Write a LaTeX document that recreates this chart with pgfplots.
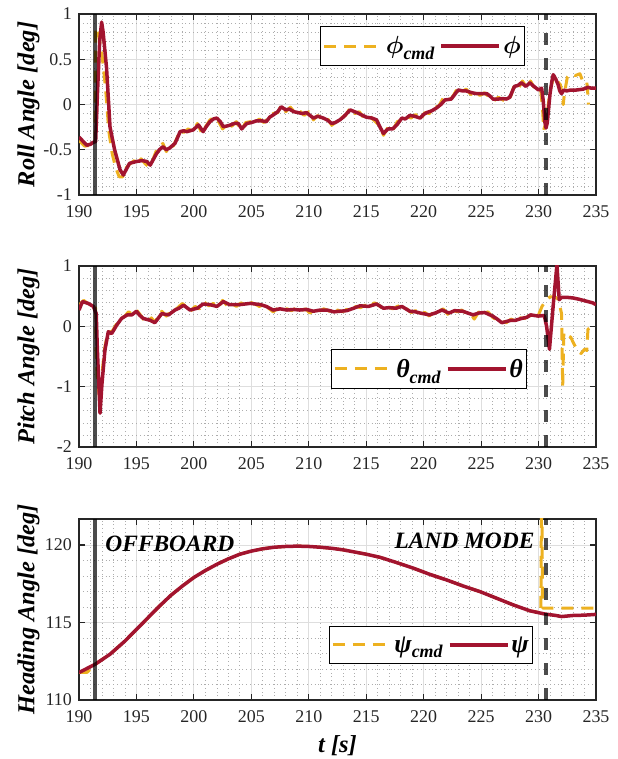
\documentclass[border=0pt]{standalone}
\usepackage{fontspec}
\setmainfont{Liberation Serif}
\usepackage{bm}
\usepackage{pgfplots}
\pgfplotsset{compat=1.18}
\definecolor{cmdc}{HTML}{EDB120}
\definecolor{actc}{HTML}{A2142F}
\definecolor{tickc}{HTML}{262626}
\newcommand{\sub}[1]{\raisebox{-0.5ex}{\fontsize{18}{20}\selectfont\textbf{\textit{#1}}}}
\pgfplotsset{
 myaxis/.style={
  scale only axis, width=517bp, height=181bp,
  xmin=190, xmax=235,
  xtick={190,195,...,235},
  xticklabels={190,195,200,205,210,215,220,225,230,235},
  minor x tick num=4, minor y tick num=4,
  grid=both,
  major grid style={line width=0.8bp, color=black!13},
  minor grid style={line width=0.7bp, color=black!32, dash pattern=on 0.8bp off 3bp},
  axis line style={line width=1.5bp, color=black!85},
  tick align=inside, xtick pos=both, ytick pos=both,
  major tick length=6bp, minor tick length=0bp,
  every tick/.style={line width=1.2bp, color=black!85},
  tick label style={font=\fontsize{18}{20}\selectfont, color=tickc, inner sep=1bp},
  xticklabel style={yshift=-9bp},
  yticklabel style={xshift=-6bp},
  every axis y label/.style={at={(axis description cs:-0.0977,0.5)}, rotate=90, anchor=center, font=\fontsize{24.5}{27}\selectfont\bfseries\itshape},
  legend image code/.code={\draw[##1] (0bp,0bp) -- (58bp,0bp);},
  legend columns=2,
  legend style={draw=black, line width=0.8bp, fill=white, font=\fontsize{26}{28}\selectfont, inner xsep=2bp, inner ysep=8bp, /tikz/every even column/.append style={column sep=3bp}, cells={anchor=west}},
 },
 cmdline/.style={color=cmdc, line width=3bp, dash pattern=on 12bp off 8bp, line join=round},
 actline/.style={color=actc, line width=3.5bp, line join=round},
 vsolid/.style={black, opacity=0.7, line width=3.8bp, forget plot},
 vdash/.style={black, opacity=0.7, line width=3.8bp, dash pattern=on 12bp off 13bp, forget plot},
}
\begin{document}
\begin{tikzpicture}
\useasboundingbox (0,0) rectangle (618bp,759bp);
% ---------------- Roll ----------------
\begin{axis}[myaxis, at={(79bp,564bp)}, anchor=south west,
  ymin=-1, ymax=1, ytick={-1,-0.5,0,0.5,1}, yticklabels={-1,-0.5,0,0.5,1},
  ylabel={Roll Angle [deg]},
  legend style={at={(0.665,0.823)}, anchor=center}]
\addplot[cmdline] coordinates {
(190.0,-0.40) (190.5,-0.46) (191.0,-0.45) (191.4,-0.44) (191.45,0.85) (191.7,0.78) (192.0,0.55) (192.3,0.2)
(192.6,-0.3) (192.9,-0.55) (193.2,-0.70) (193.5,-0.80) (193.8,-0.80) (194.1,-0.70) (194.4,-0.66) (194.8,-0.62)
(195.1,-0.66) (195.4,-0.60) (195.8,-0.66) (196.1,-0.69) (196.4,-0.62) (196.7,-0.52) (197.0,-0.48) (197.3,-0.43)
(197.6,-0.52) (197.9,-0.46) (198.2,-0.46) (198.5,-0.38) (198.8,-0.28) (199.1,-0.31) (199.5,-0.27) (199.9,-0.30)
(200.3,-0.21) (200.7,-0.32) (201.0,-0.25) (201.4,-0.17) (201.8,-0.14) (202.2,-0.20) (202.5,-0.27) (202.9,-0.22)
(203.3,-0.24) (203.7,-0.19) (204.1,-0.29) (204.5,-0.20) (204.9,-0.19) (205.3,-0.20) (205.7,-0.16) (206.1,-0.20)
(206.5,-0.15) (206.9,-0.10) (207.3,-0.09) (207.6,-0.01) (208.0,-0.08) (208.4,-0.03) (208.8,-0.09) (209.2,-0.07)
(209.6,-0.12) (210.0,-0.08) (210.4,-0.17) (210.8,-0.12) (211.2,-0.17) (211.6,-0.15) (212.0,-0.23) (212.4,-0.19)
(212.8,-0.15) (213.2,-0.12) (213.6,-0.04) (214.0,-0.10) (214.4,-0.08) (214.8,-0.15) (215.3,-0.13) (215.8,-0.19)
(216.2,-0.24) (216.5,-0.34) (216.9,-0.25) (217.3,-0.29) (217.7,-0.19) (218.1,-0.17) (218.5,-0.13) (218.9,-0.15)
(219.3,-0.11) (219.7,-0.17) (220.1,-0.09) (220.5,-0.10) (220.9,-0.03) (221.3,-0.02) (221.7,0.07) (222.1,0.04)
(222.5,0.08) (222.9,0.17) (223.3,0.14) (223.7,0.17) (224.1,0.11) (224.5,0.14) (224.9,0.10) (225.3,0.13)
(225.7,0.08) (226.1,0.04) (226.5,0.08) (226.9,0.05) (227.3,0.03) (227.6,0.10) (227.9,0.22) (228.3,0.19)
(228.6,0.26) (229.0,0.18) (229.3,0.26) (229.6,0.19) (229.9,0.21) (230.2,0.15) (230.35,-0.05) (230.45,-0.28)
(230.6,-0.22) (230.8,-0.05) (231.0,0.15) (231.3,0.30) (231.6,0.26) (231.9,0.22) (232.05,0.12) (232.15,0.0)
(232.25,0.12) (232.5,0.30) (232.8,0.34) (233.2,0.32) (233.6,0.34) (233.9,0.24) (234.2,0.25) (234.3,0.10) (234.35,0.0)
};
\addlegendentry{$\bm{\phi}$\sub{cmd}}
\addplot[actline] coordinates {
(190.0,-0.36) (190.3,-0.40) (190.67,-0.45) (191.0,-0.44) (191.2,-0.42) (191.45,-0.41) (191.6,0.1) (191.8,0.7)
(191.97,0.91) (192.1,0.8) (192.4,0.40) (192.7,-0.25) (193.1,-0.50) (193.57,-0.72) (193.86,-0.78) (194.1,-0.72)
(194.4,-0.65) (194.7,-0.64) (195.0,-0.63) (195.5,-0.62) (195.9,-0.63) (196.2,-0.67) (196.5,-0.60) (196.76,-0.54)
(197.0,-0.50) (197.3,-0.466) (197.6,-0.50) (197.9,-0.48) (198.35,-0.43) (198.6,-0.36) (198.8,-0.30) (199.1,-0.29)
(199.4,-0.30) (199.95,-0.28) (200.4,-0.226) (200.8,-0.30) (201.1,-0.24) (201.4,-0.19) (201.7,-0.16) (202.0,-0.15)
(202.3,-0.19) (202.56,-0.245) (202.8,-0.24) (203.1,-0.23) (203.5,-0.21) (203.87,-0.21) (204.16,-0.27) (204.6,-0.21)
(205.0,-0.20) (205.46,-0.18) (205.9,-0.18) (206.3,-0.19) (206.6,-0.14) (206.9,-0.116) (207.3,-0.08) (207.6,-0.025)
(208.0,-0.06) (208.3,-0.05) (208.7,-0.08) (209.1,-0.09) (209.4,-0.10) (209.8,-0.09) (210.1,-0.12) (210.4,-0.15)
(210.8,-0.13) (211.26,-0.15) (211.6,-0.17) (212.0,-0.21) (212.3,-0.20) (212.7,-0.17) (213.0,-0.14) (213.6,-0.06)
(214.2,-0.09) (215.0,-0.14) (215.5,-0.15) (215.9,-0.17) (216.2,-0.25) (216.5,-0.32) (216.9,-0.27) (217.3,-0.27)
(217.7,-0.22) (218.1,-0.15) (218.4,-0.16) (218.8,-0.12) (219.2,-0.13) (219.7,-0.15) (220.0,-0.11) (220.26,-0.09)
(220.7,-0.07) (221.1,-0.04) (221.5,0.0) (221.85,0.05) (222.4,0.06) (222.7,0.11) (223.0,0.16) (223.4,0.15)
(223.7,0.15) (224.2,0.13) (224.6,0.12) (225.0,0.12) (225.5,0.12) (225.8,0.09) (226.06,0.058) (226.5,0.06)
(226.9,0.065) (227.2,0.06) (227.5,0.08) (227.9,0.20) (228.2,0.21) (228.5,0.24) (228.9,0.20) (229.25,0.24)
(229.5,0.21) (229.8,0.18) (230.0,0.16) (230.27,0.18) (230.4,0.05) (230.56,-0.2) (230.65,-0.26) (230.76,-0.2)
(231.0,0.12) (231.15,0.25) (231.28,0.33) (231.5,0.28) (231.7,0.22) (231.85,0.15) (232.0,0.12) (232.2,0.16)
(232.44,0.15) (232.8,0.16) (233.3,0.16) (233.9,0.17) (234.3,0.19) (234.6,0.18) (235.0,0.18)
};
\addlegendentry{$\bm{\phi}$}
\addplot[vsolid] coordinates {(191.42,-1) (191.42,1)};
\addplot[vdash] coordinates {(230.62,-1) (230.62,1)};
\end{axis}
% ---------------- Pitch ----------------
\begin{axis}[myaxis, at={(79bp,312bp)}, anchor=south west,
  ymin=-2, ymax=1, ytick={-2,-1,0,1}, yticklabels={-2,-1,0,1},
  ylabel={Pitch Angle [deg]},
  legend style={at={(0.677,0.431)}, anchor=center}]
\addplot[cmdline] coordinates {
(190.0,0.35) (190.4,0.43) (190.9,0.36) (191.3,0.33) (191.45,0.30) (191.5,-0.4) (191.6,-0.9) (191.8,-1.2)
(192.0,-0.8) (192.2,-0.4) (192.5,-0.1) (192.9,-0.08) (193.3,0.05) (193.6,0.12) (194.0,0.17) (194.3,0.24)
(194.7,0.20) (195.0,0.27) (195.3,0.20) (195.6,0.12) (195.9,0.06) (196.3,0.14) (196.6,0.07) (196.9,0.16)
(197.2,0.25) (197.6,0.17) (197.9,0.23) (198.3,0.26) (198.6,0.31) (199.0,0.38) (199.4,0.31) (199.7,0.25)
(200.1,0.33) (200.5,0.29) (200.9,0.40) (201.3,0.34) (201.7,0.38) (202.1,0.31) (202.5,0.43) (202.9,0.34)
(203.3,0.38) (203.7,0.33) (204.1,0.39) (204.5,0.35) (204.9,0.40) (205.3,0.37) (205.7,0.33) (206.1,0.36)
(206.5,0.30) (206.9,0.24) (207.3,0.30) (207.7,0.26) (208.1,0.29) (208.5,0.26) (208.9,0.30) (209.3,0.25)
(209.7,0.29) (210.1,0.22) (210.5,0.27) (210.9,0.25) (211.3,0.29) (211.7,0.26) (212.1,0.22) (212.5,0.27)
(212.9,0.24) (213.3,0.28) (213.7,0.27) (214.1,0.33) (214.5,0.31) (214.9,0.35) (215.3,0.31) (215.7,0.39)
(216.1,0.35) (216.5,0.28) (216.9,0.32) (217.3,0.29) (217.7,0.33) (218.1,0.35) (218.5,0.29) (218.9,0.23)
(219.3,0.26) (219.7,0.21) (220.1,0.23) (220.5,0.17) (220.9,0.24) (221.3,0.25) (221.7,0.29) (222.1,0.20)
(222.5,0.27) (222.9,0.24) (223.3,0.27) (223.7,0.22) (224.1,0.21) (224.4,0.12) (224.8,0.24) (225.2,0.21)
(225.6,0.24) (226.0,0.15) (226.4,0.10) (226.8,0.08) (227.2,0.06) (227.6,0.12) (228.0,0.09) (228.4,0.14)
(228.8,0.13) (229.2,0.18) (229.6,0.15) (230.0,0.19) (230.3,0.33) (230.6,0.42) (231.0,0.49) (231.4,0.49)
(231.7,0.45) (231.9,0.30) (232.0,0.21) (232.1,-1.0) (232.2,-0.1) (232.5,-0.15) (232.8,-0.18) (233.1,-0.30)
(233.4,-0.40) (233.7,-0.45) (234.0,-0.38) (234.2,-0.40) (234.3,-0.05) (234.5,-0.02)
};
\addlegendentry{\textbf{\textit{θ}}\sub{cmd}}
\addplot[actline] coordinates {
(190.0,0.27) (190.3,0.41) (190.8,0.38) (191.25,0.33) (191.5,0.21) (191.6,-0.39) (191.83,-1.44) (192.0,-0.95)
(192.26,-0.39) (192.55,-0.09) (192.84,-0.12) (193.28,0.02) (193.7,0.13) (194.2,0.19) (194.6,0.19) (195.0,0.25)
(195.3,0.18) (195.6,0.13) (196.2,0.10) (196.6,0.06) (197.2,0.21) (197.8,0.19) (198.35,0.27) (198.7,0.30)
(199.1,0.35) (199.66,0.27) (200.3,0.30) (200.8,0.37) (201.4,0.36) (202.0,0.33) (202.56,0.41) (203.1,0.36)
(204.0,0.36) (204.9,0.38) (205.8,0.36) (206.3,0.33) (206.9,0.27) (207.5,0.29) (208.1,0.27) (208.7,0.28)
(209.2,0.27) (209.8,0.28) (210.4,0.25) (211.0,0.27) (211.6,0.27) (212.2,0.24) (212.7,0.25) (213.3,0.26)
(213.9,0.30) (214.46,0.34) (215.2,0.33) (215.9,0.37) (216.5,0.30) (217.0,0.31) (217.6,0.30) (218.1,0.33)
(218.8,0.25) (219.3,0.24) (219.7,0.22) (220.5,0.19) (221.0,0.22) (221.6,0.27) (222.2,0.22) (222.7,0.26)
(223.4,0.25) (224.3,0.19) (224.8,0.22) (225.3,0.23) (226.0,0.17) (226.4,0.12) (226.8,0.06) (227.2,0.08)
(227.6,0.10) (228.0,0.10) (228.5,0.13) (229.0,0.15) (229.3,0.19) (229.97,0.17) (230.5,0.18) (230.7,0.0)
(230.95,-0.38) (231.3,0.40) (231.6,1.02) (231.8,0.44) (232.0,0.48) (232.5,0.48) (233.0,0.47) (233.5,0.45)
(233.9,0.43) (234.3,0.41) (234.7,0.39) (235.0,0.36)
};
\addlegendentry{\textbf{\textit{θ}}}
\addplot[vsolid] coordinates {(191.42,-2) (191.42,1)};
\addplot[vdash] coordinates {(230.62,-2) (230.62,1)};
\end{axis}
% ---------------- Heading ----------------
\begin{axis}[myaxis, at={(79bp,59bp)}, anchor=south west,
  ymin=110, ymax=121.67, ytick={110,115,120}, yticklabels={110,115,120},
  ylabel={Heading Angle [deg]},
  xlabel={t [s]},
  xlabel style={at={(axis description cs:0.5,-0.25)}, anchor=center, font=\fontsize{24.5}{27}\selectfont\bfseries\itshape},
  legend style={at={(0.681,0.304)}, anchor=center}]
\addplot[cmdline] coordinates {
(190.0,111.78) (190.7,111.78) (191.4,112.3) (192.7,112.95) (194.0,113.8) (195.0,114.55) (196.0,115.3)
(197.0,116.05) (198.0,116.75) (199.0,117.35) (200.0,117.9) (201.0,118.35) (202.0,118.75) (203.0,119.1)
(204.0,119.4) (205.0,119.6) (206.0,119.75) (207.0,119.85) (208.0,119.9) (209.0,119.92) (210.0,119.9)
(211.0,119.85) (212.0,119.78) (213.0,119.68) (214.0,119.54) (215.0,119.4) (216.2,119.2) (217.65,118.86)
(219.1,118.5) (220.5,118.11) (222.0,117.74) (223.4,117.36) (224.9,116.99) (226.35,116.56) (227.8,116.13)
(229.25,115.75) (230.2,115.62) (230.27,125) (230.35,115.93) (235.0,115.93)
};
\addlegendentry{\textbf{\textit{ψ}}\sub{cmd}}
\addplot[actline] coordinates {
(190.0,111.77) (191.4,112.3) (192.7,112.95) (194.0,113.8) (195.0,114.55) (196.0,115.3) (197.0,116.05)
(198.0,116.75) (199.0,117.35) (200.0,117.9) (201.0,118.35) (202.0,118.75) (203.0,119.1) (204.0,119.4)
(205.0,119.6) (206.0,119.75) (207.0,119.85) (208.0,119.9) (209.0,119.92) (210.0,119.9) (211.0,119.85)
(212.0,119.78) (213.0,119.68) (214.0,119.54) (215.0,119.4) (216.2,119.2) (217.65,118.86) (219.1,118.5)
(220.5,118.11) (222.0,117.74) (223.4,117.36) (224.9,116.99) (226.35,116.56) (227.8,116.13) (229.25,115.75)
(230.5,115.55) (231.5,115.45) (232.0,115.38) (233.0,115.45) (234.0,115.47) (235.0,115.52)
};
\addlegendentry{\textbf{\textit{ψ}}}
\addplot[vsolid] coordinates {(191.42,110) (191.42,121.67)};
\addplot[vdash] coordinates {(230.62,110) (230.62,121.67)};
\node[anchor=base west, font=\fontsize{23.5}{26}\selectfont\bfseries\itshape] at (axis cs:192.0,119.55) {OFFBOARD};
\node[anchor=base east, font=\fontsize{23.5}{26}\selectfont\bfseries\itshape] at (axis cs:229.95,119.78) {LAND MODE};
\end{axis}
\end{tikzpicture}
\end{document}
